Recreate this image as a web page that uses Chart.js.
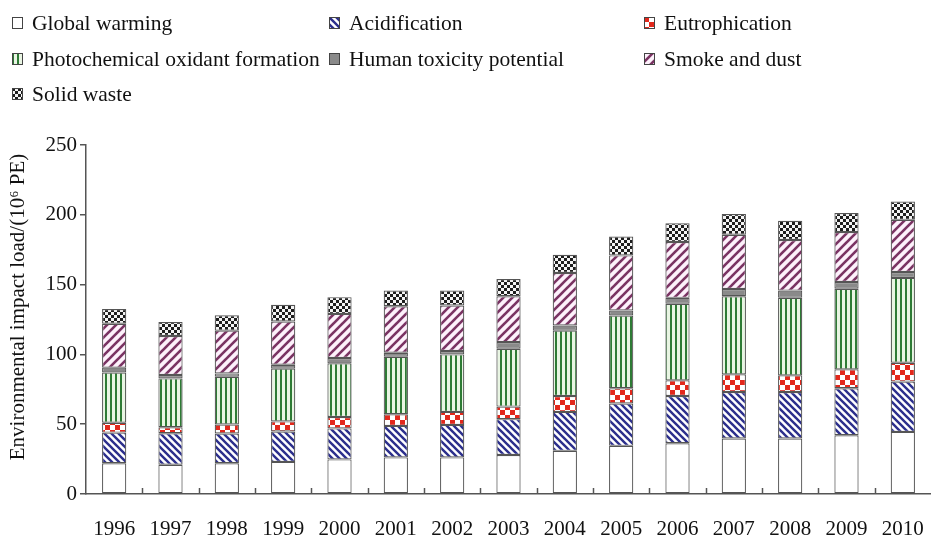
<!DOCTYPE html>
<html>
<head>
<meta charset="utf-8">
<script src="https://cdn.jsdelivr.net/npm/chart.js@4/dist/chart.umd.min.js"></script>
<style>
  html, body { margin: 0; padding: 0; background: #fff; }
  #wrap { position: relative; width: 931px; height: 539px; }
  #chart { position: absolute; left: 0; top: 0; }
  #legend { position: absolute; left: 0; top: 0; width: 931px; height: 110px;
    font-family: "Liberation Serif", "DejaVu Serif", serif; font-size: 21.5px; color: #111; }
  .item { position: absolute; display: flex; align-items: center; white-space: nowrap; }
  .item canvas { margin-right: 9px; }
</style>
</head>
<body>
<div id="wrap">
  <canvas id="chart" width="931" height="539"></canvas>
  <div id="legend"></div>
</div>
<script>
// ---------- DATA ----------
const years = ['1996','1997','1998','1999','2000','2001','2002','2003','2004','2005','2006','2007','2008','2009','2010'];
const globalWarming   = [22, 21, 22, 23, 24.8, 26.2, 26.2, 27.9, 30.9, 34.5, 36.4, 39.8, 39.8, 42.1, 44.5];
const acidification   = [22, 22.5, 21.3, 21.8, 22.2, 22.6, 23.3, 25.7, 27.9, 30.3, 33.8, 33.3, 33.3, 33.6, 36];
const eutrophication  = [7, 4.3, 6.5, 7.2, 8.2, 8.3, 9.3, 9, 11.4, 10.9, 11.2, 12.6, 11.9, 13.6, 13.5];
const photochemical   = [36, 35, 34.2, 37.8, 38.4, 41.2, 41.2, 41.4, 46.8, 52.2, 54.8, 56, 55.5, 57.7, 60.8];
const humanToxicity   = [3.5, 2.4, 2.4, 2.8, 3.8, 2.9, 2.4, 4.8, 3.7, 3.5, 4.3, 5.2, 5.2, 4.9, 4.2];
const smokeDust       = [31.5, 28, 30.6, 31, 31.6, 33.3, 32.6, 32.9, 37.6, 39.5, 40, 38.8, 36.3, 35.7, 37.4];
const solidWaste      = [10.5, 10, 11, 12, 12, 11.2, 10.7, 12.3, 13.1, 13.6, 13.5, 14.8, 13.7, 13.6, 13.1];
const seriesNames = ['Global warming','Acidification','Eutrophication','Photochemical oxidant formation','Human toxicity potential','Smoke and dust','Solid waste'];
const yTicks = [0, 50, 100, 150, 200, 250];
const yTitle = 'Environmental impact load/(10\u2076 PE)';

// ---------- PATTERNS ----------
function tile(w, h, draw) {
  const c = document.createElement('canvas'); c.width = w; c.height = h;
  const g = c.getContext('2d'); draw(g, w, h); return c;
}
function diag(color, bg, dir, s, lw) {
  return tile(s, s, (g) => {
    g.fillStyle = bg; g.fillRect(0, 0, s, s);
    g.strokeStyle = color; g.lineWidth = lw; g.lineCap = 'square';
    for (let k = -1; k <= 1; k++) {
      g.beginPath();
      if (dir === '/') { g.moveTo(k * s, s); g.lineTo(k * s + s, 0); }
      else { g.moveTo(k * s, 0); g.lineTo(k * s + s, s); }
      g.stroke();
    }
  });
}
function checker(color, bg, q) {
  return tile(2 * q, 2 * q, (g) => {
    g.fillStyle = bg; g.fillRect(0, 0, 2 * q, 2 * q);
    g.fillStyle = color; g.fillRect(0, 0, q, q); g.fillRect(q, q, q, q);
  });
}
function vstripes(color, bg, p, w) {
  return tile(p, 4, (g) => {
    g.fillStyle = bg; g.fillRect(0, 0, p, 4);
    g.fillStyle = color; g.fillRect(0, 0, w, 4);
  });
}
const tiles = [
  tile(4, 4, (g) => { g.fillStyle = '#ffffff'; g.fillRect(0, 0, 4, 4); }),
  diag('#2c2f8c', '#ffffff', '\\', 7, 2.4),
  checker('#e2281c', '#ffffff', 5),
  vstripes('#2e7b35', '#e9f5e3', 5, 2),
  tile(4, 4, (g) => { g.fillStyle = '#8a8a8a'; g.fillRect(0, 0, 4, 4); }),
  diag('#7a3363', '#fdf1fb', '/', 9, 2.6),
  checker('#1e1e1e', '#f4f4f4', 3)
];
const ctx = document.getElementById('chart').getContext('2d');
const fills = tiles.map(t => ctx.createPattern(t, 'repeat'));

const seriesData = [globalWarming, acidification, eutrophication, photochemical, humanToxicity, smokeDust, solidWaste];

// ---------- LEGEND (HTML) ----------
const legendPos = [[12, 23], [329, 23], [644, 23], [12, 59], [329, 59], [644, 59], [12, 94]];
const legendEl = document.getElementById('legend');
seriesNames.forEach((name, i) => {
  const it = document.createElement('div');
  it.className = 'item';
  it.style.left = legendPos[i][0] + 'px';
  it.style.top = (legendPos[i][1] - 12) + 'px';
  it.style.height = '24px';
  const sw = document.createElement('canvas'); sw.width = 11; sw.height = 12;
  const sg = sw.getContext('2d');
  sg.fillStyle = sg.createPattern(tiles[i], 'repeat'); sg.fillRect(0, 0, 11, 12);
  sg.strokeStyle = '#444'; sg.lineWidth = 1; sg.strokeRect(0.5, 0.5, 10, 11);
  it.appendChild(sw);
  const tx = document.createElement('span'); tx.textContent = name;
  it.appendChild(tx);
  legendEl.appendChild(it);
});

const serif = "'Liberation Serif', 'DejaVu Serif', serif";

// ---------- INWARD X TICKS + Y TITLE ----------
const extras = {
  id: 'extras',
  afterDatasetsDraw(chart) {
    const xs = chart.scales.x, a = chart.chartArea, c = chart.ctx;
    c.save(); c.strokeStyle = '#555'; c.lineWidth = 1.5;
    for (let i = 0; i < years.length - 1; i++) {
      const xp = (xs.getPixelForValue(i) + xs.getPixelForValue(i + 1)) / 2;
      c.beginPath(); c.moveTo(Math.round(xp) + 0.5, a.bottom); c.lineTo(Math.round(xp) + 0.5, a.bottom - 6); c.stroke();
    }
    c.restore();
  },
  afterDraw(chart) {
    const c = chart.ctx;
    c.save();
    c.translate(18, 307);
    c.rotate(-Math.PI / 2);
    c.fillStyle = '#111';
    c.font = "21px " + serif;
    c.textAlign = 'center';
    c.textBaseline = 'middle';
    c.fillText(yTitle, 0, 0);
    c.restore();
  }
};

new Chart(ctx, {
  type: 'bar',
  data: {
    labels: years,
    datasets: seriesNames.map((n, i) => ({
      label: n,
      data: seriesData[i],
      backgroundColor: fills[i],
      borderColor: '#555',
      borderWidth: 1.2,
      borderSkipped: false,
      categoryPercentage: 1,
      barPercentage: 0.43
    }))
  },
  options: {
    responsive: false,
    animation: false,
    layout: { padding: { top: 145, right: 0, left: 0, bottom: 0 } },
    plugins: { legend: { display: false }, tooltip: { enabled: false }, title: { display: false } },
    scales: {
      x: {
        stacked: true,
        grid: { display: false, drawTicks: false },
        border: { display: true, color: '#555', width: 1.5 },
        ticks: { color: '#111', font: { family: serif, size: 21 }, padding: 23, maxRotation: 0, autoSkip: false },
        afterFit(s) { s.height = 45; s.paddingLeft = 0; s.paddingRight = 0; }
      },
      y: {
        stacked: true,
        min: 0, max: 250,
        afterBuildTicks(s) { s.ticks = yTicks.map(v => ({ value: v })); },
        grid: { display: true, drawOnChartArea: false, drawTicks: true, tickLength: 6, color: '#555', lineWidth: 1.5 },
        border: { display: true, color: '#555', width: 1.5 },
        ticks: { color: '#111', font: { family: serif, size: 21 }, padding: 3 },
        title: { display: false, text: yTitle },
        afterFit(s) { s.width = 86; s.paddingTop = 0; s.paddingBottom = 0; }
      }
    }
  },
  plugins: [extras]
});
</script>
</body>
</html>
